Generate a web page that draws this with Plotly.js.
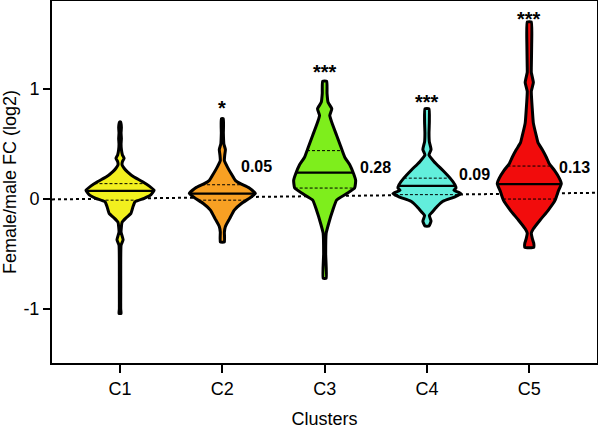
<!DOCTYPE html>
<html>
<head>
<meta charset="utf-8">
<script src="https://cdn.plot.ly/plotly-3.0.1.min.js"></script>
<style>html,body{margin:0;padding:0;background:#fff;}#chart{width:598px;height:429px;}</style>
</head>
<body>
<div id="chart"></div>
<script>
// ---------------- DATA ----------------
const categories = ['C1', 'C2', 'C3', 'C4', 'C5'];

// Density profiles: log2 FC levels (descending) and relative density (0-100)
const c1Levels  = [0.70, 0.65, 0.60, 0.55, 0.50, 0.45, 0.40, 0.37, 0.34, 0.31, 0.28, 0.25, 0.20, 0.16, 0.12, 0.08, 0.04, 0.006, -0.025, -0.07, -0.13, -0.17, -0.21, -0.30, -0.37, -0.42, -0.60, -0.80, -1.00, -1.04];
const c1Density = [1.5, 4, 3, 4, 3, 4, 7, 12, 7, 6, 12, 21, 41, 65, 85, 100, 91, 71, 44, 38, 32, 18, 6, 3, 9, 3, 2, 2, 2, 3];

const c2Levels  = [0.73, 0.60, 0.50, 0.45, 0.40, 0.35, 0.29, 0.22, 0.17, 0.14, 0.10, 0.05, 0.006, -0.04, -0.10, -0.18, -0.25, -0.30, -0.39];
const c2Density = [3, 3, 4.5, 9, 7, 6, 15, 28, 38, 53, 79, 97, 79, 56, 35, 21, 9, 6, 6];

const c3Levels  = [1.07, 0.96, 0.88, 0.82, 0.76, 0.67, 0.58, 0.48, 0.38, 0.31, 0.23, 0.17, 0.10, 0.05, -0.01, -0.10, -0.22, -0.31, -0.50, -0.72];
const c3Density = [6, 7, 10, 21, 15, 24, 35, 47, 59, 74, 85, 91, 88, 65, 35, 24, 12, 4.5, 3, 4.5];

const c4Levels  = [0.82, 0.70, 0.60, 0.52, 0.45, 0.40, 0.34, 0.26, 0.19, 0.13, 0.10, 0.08, 0.05, 0.02, -0.02, -0.07, -0.12, -0.15, -0.20, -0.245];
const c4Density = [6, 7, 6, 7, 12, 6, 21, 47, 68, 82, 85, 79, 100, 82, 47, 29, 15, 7, 12, 6];

const c5Levels  = [1.61, 1.40, 1.20, 1.15, 1.06, 0.98, 0.81, 0.69, 0.57, 0.51, 0.45, 0.38, 0.32, 0.26, 0.19, 0.14, 0.07, -0.01, -0.10, -0.19, -0.27, -0.31, -0.36, -0.40, -0.44];
const c5Density = [6, 7, 6, 6, 12, 6, 9, 12, 21, 26, 38, 50, 59, 74, 88, 94, 85, 76, 56, 32, 12, 6, 9, 13, 13];

const medians   = [0.075, 0.05, 0.24, 0.12, 0.136];
const quartile1 = [-0.01, -0.01, 0.10, 0.04, 0.0];
const quartile3 = [0.14, 0.13, 0.44, 0.19, 0.30];

const sigLabels   = ['', '*', '***', '***', '***'];
const valueLabels = ['', '0.05', '0.28', '0.09', '0.13'];

// dotted trend line values at left / right ends of the x range
const trendValues = [-0.003, 0.057];

const fillColors = ['#f2f01e', '#f8a023', '#7eee1c', '#62eedc', '#f20c0c'];

// ---------------- LAYOUT CONSTANTS ----------------
const X_RANGE = [-0.665, 4.662];
const Y_RANGE = [-1.49, 1.80];
const HALF_WIDTH = 0.333;   // category units at density 100
const starShift = [0, -2, -4, -6, -10];
const labelOffsetX = [0, 0.33, 0.5, 0.46, 0.44];
const labelY = [0, 0.295, 0.29, 0.22, 0.29];

const profiles = [
  [c1Levels, c1Density], [c2Levels, c2Density], [c3Levels, c3Density],
  [c4Levels, c4Density], [c5Levels, c5Density]
];

function densityAt(levels, dens, y) {
  for (let i = 0; i < levels.length - 1; i++) {
    const a = levels[i], b = levels[i + 1];
    if (y <= a && y >= b) {
      const t = (a - y) / (a - b);
      return dens[i] + t * (dens[i + 1] - dens[i]);
    }
  }
  return 0;
}

const traces = [];
const font = 'Liberation Sans, Arial, sans-serif';

// trend line
traces.push({
  type: 'scatter', mode: 'lines', x: X_RANGE, y: trendValues,
  line: {color: '#000', width: 2, dash: 'dot'}, hoverinfo: 'skip', showlegend: false
});

profiles.forEach(([levels, dens], i) => {
  const xs = [], ys = [];
  for (let k = 0; k < levels.length; k++) { xs.push(i + dens[k] / 100 * HALF_WIDTH); ys.push(levels[k]); }
  for (let k = levels.length - 1; k >= 0; k--) { xs.push(i - dens[k] / 100 * HALF_WIDTH); ys.push(levels[k]); }
  xs.push(xs[0]); ys.push(ys[0]);
  traces.push({
    type: 'scatter', mode: 'lines', x: xs, y: ys, fill: 'toself',
    fillcolor: fillColors[i], line: {color: '#000', width: 3, shape: 'spline', smoothing: 0.4},
    hoverinfo: 'skip', showlegend: false
  });
  [[medians[i], 'solid', 2.2], [quartile1[i], '3px,2px', 1], [quartile3[i], '3px,2px', 1]].forEach(([v, dash, w]) => {
    const hw = densityAt(levels, dens, v) / 100 * HALF_WIDTH;
    traces.push({
      type: 'scatter', mode: 'lines', x: [i - hw, i + hw], y: [v, v],
      line: {color: '#000', width: w, dash: dash}, hoverinfo: 'skip', showlegend: false
    });
  });
});

const annotations = [];
categories.forEach((c, i) => {
  const levels = profiles[i][0];
  if (sigLabels[i]) annotations.push({
    x: i, y: levels[0], xref: 'x', yref: 'y', text: '<b>' + sigLabels[i] + '</b>', showarrow: false,
    yanchor: 'bottom', yshift: starShift[i], font: {family: font, size: 20, color: '#000'}
  });
  if (valueLabels[i]) annotations.push({
    x: i + labelOffsetX[i], y: labelY[i], xref: 'x', yref: 'y', text: '<b>' + valueLabels[i] + '</b>',
    showarrow: false, font: {family: font, size: 16, color: '#000'}
  });
});

const layout = {
  width: 598, height: 429,
  margin: {l: 52, r: 1, t: 1, b: 66, pad: 0},
  paper_bgcolor: '#fff', plot_bgcolor: '#fff',
  showlegend: false,
  xaxis: {
    range: X_RANGE, tickvals: [0, 1, 2, 3, 4], ticktext: categories,
    showline: true, mirror: true, linecolor: '#000', linewidth: 2,
    ticks: 'outside', ticklen: 8, tickwidth: 2, tickcolor: '#000',
    showgrid: false, zeroline: false,
    tickfont: {family: font, size: 18, color: '#000'},
    title: {text: 'Clusters', font: {family: font, size: 18, color: '#000'}, standoff: 18}
  },
  yaxis: {
    range: Y_RANGE, tickvals: [-1, 0, 1], ticktext: ['-1', '0', '1'],
    showline: true, mirror: true, linecolor: '#000', linewidth: 2,
    ticks: 'outside', ticklen: 7, tickwidth: 2, tickcolor: '#000',
    showgrid: false, zeroline: false,
    tickfont: {family: font, size: 18, color: '#000'},
    title: {text: 'Female/male FC (log2)', font: {family: font, size: 18, color: '#000'}, standoff: 6}
  },
  annotations: annotations
};

Plotly.newPlot('chart', traces, layout, {staticPlot: true, displayModeBar: false});
</script>
</body>
</html>
